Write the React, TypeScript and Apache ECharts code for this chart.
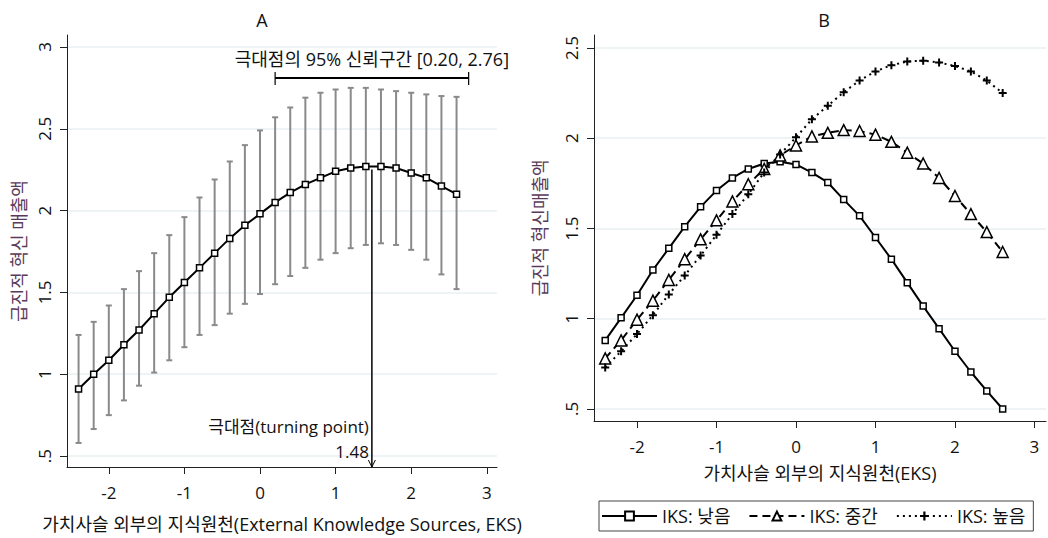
import React, { useEffect, useRef } from 'react';
import * as echarts from 'echarts';

// ---------- data ----------
const xValues = [-2.4, -2.2, -2.0, -1.8, -1.6, -1.4, -1.2, -1.0, -0.8, -0.6, -0.4, -0.2, 0, 0.2, 0.4, 0.6, 0.8, 1.0, 1.2, 1.4, 1.6, 1.8, 2.0, 2.2, 2.4, 2.6];

// Panel A: predicted value and 95% CI
const aPred = [0.91, 1.0, 1.085, 1.18, 1.27, 1.37, 1.47, 1.56, 1.65, 1.74, 1.83, 1.91, 1.98, 2.05, 2.11, 2.16, 2.20, 2.24, 2.26, 2.27, 2.27, 2.26, 2.23, 2.20, 2.15, 2.10];
const aUpper = [1.24, 1.32, 1.42, 1.52, 1.63, 1.74, 1.85, 1.96, 2.08, 2.19, 2.30, 2.40, 2.49, 2.57, 2.63, 2.69, 2.72, 2.74, 2.75, 2.75, 2.74, 2.73, 2.72, 2.71, 2.70, 2.695];
const aLower = [0.58, 0.665, 0.75, 0.84, 0.93, 1.01, 1.085, 1.165, 1.24, 1.30, 1.37, 1.43, 1.49, 1.55, 1.60, 1.65, 1.70, 1.74, 1.77, 1.79, 1.80, 1.79, 1.76, 1.70, 1.61, 1.52];

const turningPoint = 1.48;
const turningPeak = 2.27;
const turningCI = [0.20, 2.76];

// Panel B: by IKS level
const seriesNames = ['IKS: 낮음', 'IKS: 중간', 'IKS: 높음'];
const bLow = [0.88, 1.005, 1.13, 1.27, 1.39, 1.51, 1.62, 1.71, 1.78, 1.83, 1.86, 1.87, 1.855, 1.81, 1.755, 1.66, 1.57, 1.45, 1.33, 1.20, 1.07, 0.945, 0.82, 0.705, 0.60, 0.50];
const bMid = [0.78, 0.88, 0.995, 1.10, 1.215, 1.33, 1.44, 1.545, 1.65, 1.745, 1.83, 1.905, 1.96, 2.01, 2.03, 2.045, 2.04, 2.02, 1.98, 1.92, 1.86, 1.78, 1.68, 1.58, 1.48, 1.37];
const bHigh = [0.73, 0.82, 0.915, 1.02, 1.135, 1.24, 1.35, 1.465, 1.58, 1.69, 1.81, 1.91, 2.005, 2.105, 2.18, 2.255, 2.32, 2.37, 2.405, 2.425, 2.43, 2.42, 2.40, 2.37, 2.32, 2.25];

const xTicks = [-2, -1, 0, 1, 2, 3];
const yTicksA = [0.5, 1, 1.5, 2, 2.5, 3];
const yTicksB = [0.5, 1, 1.5, 2, 2.5];

const titleA = 'A';
const titleB = 'B';
const xNameA = '가치사슬 외부의 지식원천(External Knowledge Sources, EKS)';
const xNameB = '가치사슬 외부의 지식원천(EKS)';
const yNameA = '급진적 혁신 매출액';
const yNameB = '급진적 혁신매출액';

// ---------- styling ----------
const FONT = '"Open Sans", "Noto Sans CJK KR", sans-serif';
const GRID_COLOR = '#e8f0f3';
const AXIS_COLOR = '#222';
const YNAME_COLOR = '#5a3a5a';
const PLUS = 'path://M3,0H5V3H8V5H5V8H3V5H0V3H3Z';

const fmtY = (v: number) => (v === 0.5 ? '.5' : String(v));

function xAxisCfg(gridIndex: number, min: number, max: number, name: string, nameGap: number) {
  return {
    type: 'value', gridIndex, min, max, name, nameLocation: 'middle', nameGap,
    nameTextStyle: { fontSize: 18, color: '#111', fontFamily: FONT },
    axisLine: { show: true, onZero: false, lineStyle: { color: AXIS_COLOR, width: 1 } },
    axisTick: { show: true, length: 7, customValues: xTicks, lineStyle: { color: AXIS_COLOR } },
    axisLabel: { customValues: xTicks, fontSize: 17, color: '#111', margin: 17, fontFamily: FONT },
    splitLine: { show: false },
  };
}

function yAxisCfg(gridIndex: number, min: number, max: number, ticks: number[], name: string, nameGap: number) {
  return {
    type: 'value', gridIndex, min, max, name, nameLocation: 'middle', nameGap, nameRotate: 90,
    nameTextStyle: { fontSize: 18, color: YNAME_COLOR, fontFamily: FONT },
    axisLine: { show: true, onZero: false, lineStyle: { color: AXIS_COLOR, width: 1 } },
    axisTick: { show: true, length: 7, customValues: ticks, lineStyle: { color: AXIS_COLOR } },
    axisLabel: { customValues: ticks, rotate: 90, fontSize: 17, color: '#111', margin: 14, formatter: fmtY, fontFamily: FONT },
    splitLine: { show: true, lineStyle: { color: GRID_COLOR, width: 1.5 } },
  };
}

export default function App() {
  const ref = useRef<HTMLDivElement>(null);

  useEffect(() => {
    if (!ref.current) return;
    const chart = echarts.init(ref.current, null, { renderer: 'svg' });

    const errData = xValues.map((x, i) => [x, aLower[i], aUpper[i]]);

    const option: any = {
      animation: false,
      backgroundColor: '#fff',
      textStyle: { fontFamily: FONT },
      graphic: [
        { type: 'text', x: 262, y: 20, style: { text: titleA, fontSize: 18, fontFamily: FONT, fill: '#111', align: 'center', verticalAlign: 'middle' } },
        { type: 'text', x: 824, y: 20, style: { text: titleB, fontSize: 18, fontFamily: FONT, fill: '#111', align: 'center', verticalAlign: 'middle' } },
      ],
      grid: [
        { left: 67, top: 35, width: 430, height: 433 },
        { left: 594, top: 35, width: 452, height: 386 },
      ],
      xAxis: [
        xAxisCfg(0, -2.553, 3.135, xNameA, 48),
        xAxisCfg(1, -2.541, 3.145, xNameB, 43),
      ],
      yAxis: [
        yAxisCfg(0, 0.433, 3.073, yTicksA, yNameA, 39),
        yAxisCfg(1, 0.4335, 2.572, yTicksB, yNameB, 45),
      ],
      legend: {
        data: seriesNames,
        left: 599, top: 501,
        itemWidth: 55, itemHeight: 11, itemGap: 18,
        padding: [6, 8, 6, 2],
        borderColor: '#444', borderWidth: 1,
        textStyle: { fontSize: 18, color: '#111', fontFamily: FONT },
      },
      series: [
        {
          type: 'custom', name: 'ci', xAxisIndex: 0, yAxisIndex: 0, z: 1,
          data: errData,
          encode: { x: 0, y: [1, 2] },
          renderItem: (params: any, api: any) => {
            const x = api.value(0);
            const lo = api.coord([x, api.value(1)]);
            const hi = api.coord([x, api.value(2)]);
            const st = { stroke: '#8a8a8a', lineWidth: 2 };
            const hw = 3;
            return {
              type: 'group',
              children: [
                { type: 'line', shape: { x1: lo[0], y1: lo[1], x2: hi[0], y2: hi[1] }, style: st },
                { type: 'line', shape: { x1: hi[0] - hw, y1: hi[1], x2: hi[0] + hw, y2: hi[1] }, style: st },
                { type: 'line', shape: { x1: lo[0] - hw, y1: lo[1], x2: lo[0] + hw, y2: lo[1] }, style: st },
              ],
            };
          },
        },
        {
          type: 'custom', name: 'annot', xAxisIndex: 0, yAxisIndex: 0, z: 3,
          data: [[turningPoint, turningPeak, turningCI[0], turningCI[1]]],
          encode: { x: 0, y: 1 },
          renderItem: (params: any, api: any) => {
            const tp = api.value(0);
            const pk = api.value(1);
            const lo = api.value(2);
            const hi = api.value(3);
            const top = api.coord([tp, pk]);
            const bottomY = params.coordSys.y + params.coordSys.height;
            const bl = api.coord([lo, 2.81]);
            const br = api.coord([hi, 2.81]);
            const hdr = api.coord([tp, 2.927]);
            const l1 = api.coord([tp, 0.68]);
            const l2 = api.coord([tp, 0.53]);
            const blk = { stroke: '#000', lineWidth: 1.5, fill: 'none' };
            const txt = (text: string, x: number, y: number, align: string, size: number) => ({
              type: 'text', x, y,
              style: { text, fontSize: size, fontFamily: FONT, fill: '#111', align, verticalAlign: 'middle' },
            });
            return {
              type: 'group',
              children: [
                { type: 'line', shape: { x1: bl[0], y1: bl[1], x2: br[0], y2: br[1] }, style: { stroke: '#000', lineWidth: 2 } },
                { type: 'line', shape: { x1: bl[0], y1: bl[1] - 6, x2: bl[0], y2: bl[1] + 7 }, style: { stroke: '#000', lineWidth: 1.2 } },
                { type: 'line', shape: { x1: br[0], y1: br[1] - 6, x2: br[0], y2: br[1] + 7 }, style: { stroke: '#000', lineWidth: 1.2 } },
                txt(`극대점의 95% 신뢰구간 [${lo.toFixed(2)}, ${hi.toFixed(2)}]`, hdr[0], hdr[1], 'center', 18),
                { type: 'line', shape: { x1: top[0], y1: top[1] + 3, x2: top[0], y2: bottomY }, style: blk },
                { type: 'polyline', shape: { points: [[top[0] - 3.5, bottomY - 7], [top[0], bottomY], [top[0] + 3.5, bottomY - 7]] }, style: { stroke: '#000', lineWidth: 1, fill: 'none' } },
                txt('극대점(turning point)', top[0] - 3, l1[1], 'right', 17),
                txt(tp.toFixed(2), top[0] - 3, l2[1], 'right', 17),
              ],
            };
          },
        },
        {
          type: 'line', name: 'pred', xAxisIndex: 0, yAxisIndex: 0, z: 4,
          data: xValues.map((x, i) => [x, aPred[i]]),
          symbol: 'rect', symbolSize: 6, showAllSymbol: true,
          lineStyle: { color: '#000', width: 2 },
          itemStyle: { color: '#fff', borderColor: '#000', borderWidth: 1.5 },
        },
        {
          type: 'line', name: seriesNames[0], xAxisIndex: 1, yAxisIndex: 1, z: 4,
          data: xValues.map((x, i) => [x, bLow[i]]),
          symbol: 'rect', symbolSize: 6, showAllSymbol: true,
          lineStyle: { color: '#000', width: 2 },
          itemStyle: { color: '#fff', borderColor: '#000', borderWidth: 1.5 },
        },
        {
          type: 'line', name: seriesNames[1], xAxisIndex: 1, yAxisIndex: 1, z: 4,
          data: xValues.map((x, i) => [x, bMid[i]]),
          symbol: 'triangle', symbolSize: 11, showAllSymbol: true,
          lineStyle: { color: '#000', width: 2, type: [8, 5] },
          itemStyle: { color: '#fff', borderColor: '#000', borderWidth: 1.5 },
        },
        {
          type: 'line', name: seriesNames[2], xAxisIndex: 1, yAxisIndex: 1, z: 4,
          data: xValues.map((x, i) => [x, bHigh[i]]),
          symbol: PLUS, symbolSize: 8, showAllSymbol: true,
          lineStyle: { color: '#000', width: 2, type: [2, 4] },
          itemStyle: { color: '#000', borderWidth: 0 },
        },
      ],
    };

    chart.setOption(option);
    return () => chart.dispose();
  }, []);

  return <div ref={ref} style={{ position: 'fixed', left: 0, top: 0, width: 1048, height: 538 }} />;
}
